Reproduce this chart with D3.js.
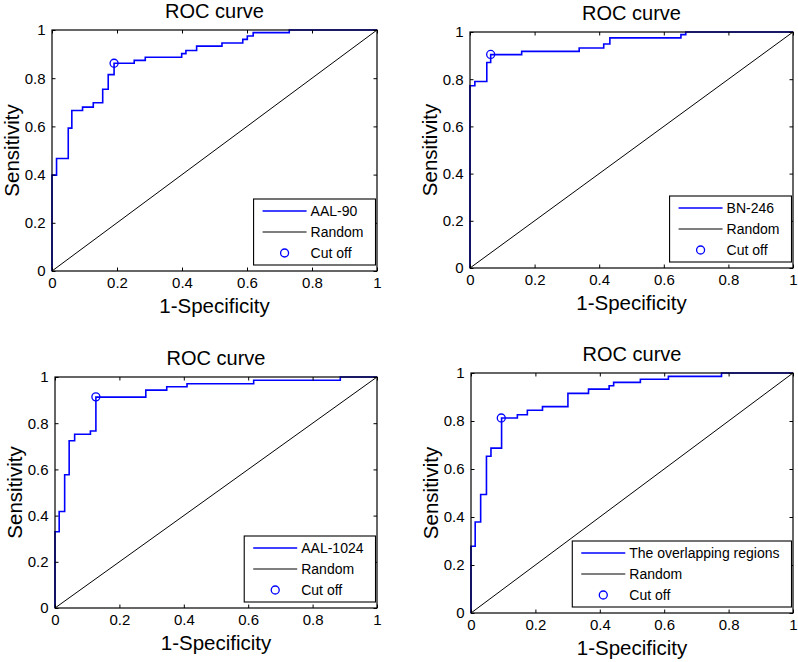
<!DOCTYPE html>
<html>
<head>
<meta charset="utf-8">
<script src="https://cdn.jsdelivr.net/npm/d3@7"></script>
<style>
  html, body { margin: 0; padding: 0; background: #fff; }
  svg { display: block; }
  text { font-family: "Liberation Sans", Arial, sans-serif; fill: #000; }
</style>
</head>
<body>
<svg id="chart" width="798" height="662"></svg>
<script>
// ---------- data ----------
const tickValues = [0, 0.2, 0.4, 0.6, 0.8, 1];
const tickLabels = ["0", "0.2", "0.4", "0.6", "0.8", "1"];
const chartTitle = "ROC curve";
const xLabel = "1-Specificity";
const yLabel = "Sensitivity";
const seriesNames = ["AAL-90", "BN-246", "AAL-1024", "The overlapping regions"];
const legendOthers = ["Random", "Cut off"];

// ROC staircase vertices (fpr, tpr) — top of each vertical riser
const fprAAL90 = [0, 0, 0.014, 0.05, 0.061, 0.094, 0.127, 0.156, 0.173, 0.191, 0.253, 0.287, 0.399, 0.412, 0.445, 0.523, 0.587, 0.601, 0.619, 0.73, 1];
const tprAAL90 = [0, 0.398, 0.467, 0.593, 0.666, 0.68, 0.698, 0.754, 0.815, 0.862, 0.874, 0.887, 0.902, 0.915, 0.933, 0.946, 0.961, 0.975, 0.989, 1, 1];

const fprBN246 = [0, 0, 0.015, 0.052, 0.064, 0.16, 0.338, 0.414, 0.433, 0.653, 0.668, 1];
const tprBN246 = [0, 0.772, 0.79, 0.871, 0.904, 0.918, 0.932, 0.949, 0.975, 0.989, 1, 1];

const fprAAL1024 = [0, 0, 0.013, 0.03, 0.044, 0.061, 0.11, 0.127, 0.282, 0.347, 0.41, 0.617, 0.886, 1];
const tprAAL1024 = [0, 0.33, 0.418, 0.577, 0.724, 0.752, 0.766, 0.913, 0.943, 0.958, 0.971, 0.986, 1, 1];

const fprOverlap = [0, 0, 0.013, 0.03, 0.048, 0.062, 0.095, 0.144, 0.175, 0.222, 0.301, 0.365, 0.429, 0.443, 0.526, 0.613, 0.778, 1];
const tprOverlap = [0, 0.278, 0.379, 0.494, 0.653, 0.687, 0.8125, 0.826, 0.845, 0.86, 0.915, 0.933, 0.947, 0.961, 0.974, 0.986, 1, 1];

const cutoffFpr = [0.191, 0.064, 0.127, 0.094];
const cutoffTpr = [0.862, 0.905, 0.914, 0.8125];

const randomFpr = [0, 1];
const randomTpr = [0, 1];

// ---------- layout ----------
const panels = [
  { left: 52,  top: 30,  right: 377, bottom: 271, fpr: fprAAL90,   tpr: tprAAL90 },
  { left: 470, top: 32,  right: 793, bottom: 268, fpr: fprBN246,   tpr: tprBN246 },
  { left: 55,  top: 377, right: 377, bottom: 608, fpr: fprAAL1024, tpr: tprAAL1024 },
  { left: 471, top: 373, right: 793, bottom: 613, fpr: fprOverlap, tpr: tprOverlap }
];

const svg = d3.select("#chart");
const BLUE = "#0000ff";
const tickFont = 15, labelFont = 20.5, titleFont = 20, legendFont = 14;

panels.forEach((p, i) => {
  const x = d3.scaleLinear().domain([0, 1]).range([p.left, p.right]);
  const y = d3.scaleLinear().domain([0, 1]).range([p.bottom, p.top]);
  const g = svg.append("g");

  // random diagonal
  const lineGen = d3.line().x(d => x(d[0])).y(d => y(d[1]));
  g.append("path")
    .datum(randomFpr.map((v, k) => [v, randomTpr[k]]))
    .attr("d", lineGen)
    .attr("fill", "none").attr("stroke", "#000").attr("stroke-width", 1);

  // ROC staircase
  const stepGen = d3.line().x(d => x(d[0])).y(d => y(d[1])).curve(d3.curveStepAfter);
  g.append("path")
    .datum(p.fpr.map((v, k) => [v, p.tpr[k]]))
    .attr("d", stepGen)
    .attr("fill", "none").attr("stroke", BLUE).attr("stroke-width", 1.6);

  // cut-off marker
  g.append("circle")
    .attr("cx", x(cutoffFpr[i])).attr("cy", y(cutoffTpr[i])).attr("r", 4)
    .attr("fill", "none").attr("stroke", BLUE).attr("stroke-width", 1.3);

  // axes (ticks inward, mirrored)
  const tickLen = 3.5;
  const fmt = (d, k) => tickLabels[k];
  const axB = d3.axisBottom(x).tickValues(tickValues).tickFormat(fmt).tickSizeInner(-tickLen).tickSizeOuter(0).tickPadding(6.5);
  const axL = d3.axisLeft(y).tickValues(tickValues).tickFormat(fmt).tickSizeInner(-tickLen).tickSizeOuter(0).tickPadding(6.5);
  const axT = d3.axisTop(x).tickValues(tickValues).tickFormat("").tickSizeInner(-tickLen).tickSizeOuter(0);
  const axR = d3.axisRight(y).tickValues(tickValues).tickFormat("").tickSizeInner(-tickLen).tickSizeOuter(0);

  const gb = g.append("g").attr("transform", `translate(0,${p.bottom})`).call(axB);
  const gl = g.append("g").attr("transform", `translate(${p.left},0)`).call(axL);
  const gt = g.append("g").attr("transform", `translate(0,${p.top})`).call(axT);
  const gr = g.append("g").attr("transform", `translate(${p.right},0)`).call(axR);
  [gb, gl, gt, gr].forEach(a => {
    a.select(".domain").remove();
    a.selectAll("line").attr("stroke", "#000").attr("stroke-width", 1);
    a.selectAll("text").style("font-family", '"Liberation Sans", Arial, sans-serif')
      .style("font-size", tickFont + "px").attr("fill", "#000");
  });

  // frame
  g.append("rect")
    .attr("x", p.left).attr("y", p.top)
    .attr("width", p.right - p.left).attr("height", p.bottom - p.top)
    .attr("fill", "none").attr("stroke", "#000").attr("stroke-width", 1.2);

  // title & labels
  const cx = (p.left + p.right) / 2, cy = (p.top + p.bottom) / 2;
  g.append("text").attr("x", cx).attr("y", p.top - 12)
    .attr("text-anchor", "middle").style("font-size", titleFont + "px").text(chartTitle);
  g.append("text").attr("x", cx).attr("y", p.bottom + 42)
    .attr("text-anchor", "middle").style("font-size", labelFont + "px").text(xLabel);
  g.append("text").attr("transform", `translate(${p.left - 33},${cy}) rotate(-90)`)
    .attr("text-anchor", "middle").style("font-size", labelFont + "px").text(yLabel);

  // legend
  const names = [seriesNames[i], legendOthers[0], legendOthers[1]];
  const lg = g.append("g");
  const box = lg.append("rect").attr("fill", "#fff").attr("stroke", "#000").attr("stroke-width", 1.1);
  const lineStart = 9, lineLen = 44, textGap = 4, itemY = [12, 33, 54], boxH = 66;
  const texts = names.map((n, k) => lg.append("text")
    .attr("x", lineStart + lineLen + textGap).attr("y", itemY[k]).attr("dy", "0.35em")
    .style("font-size", legendFont + "px").text(n));
  const maxW = d3.max(texts, t => t.node().getComputedTextLength());
  const boxW = lineStart + lineLen + textGap + maxW + 12;
  box.attr("x", 0).attr("y", 0).attr("width", boxW).attr("height", boxH);
  lg.append("line").attr("x1", lineStart).attr("x2", lineStart + lineLen)
    .attr("y1", itemY[0]).attr("y2", itemY[0]).attr("stroke", BLUE).attr("stroke-width", 1.3);
  lg.append("line").attr("x1", lineStart).attr("x2", lineStart + lineLen)
    .attr("y1", itemY[1]).attr("y2", itemY[1]).attr("stroke", "#000").attr("stroke-width", 1.1);
  lg.append("circle").attr("cx", lineStart + lineLen / 2).attr("cy", itemY[2]).attr("r", 4)
    .attr("fill", "none").attr("stroke", BLUE).attr("stroke-width", 1.3);
  lg.attr("transform", `translate(${p.right - 1.5 - boxW},${p.bottom - 6 - boxH})`);
});
</script>
</body>
</html>
